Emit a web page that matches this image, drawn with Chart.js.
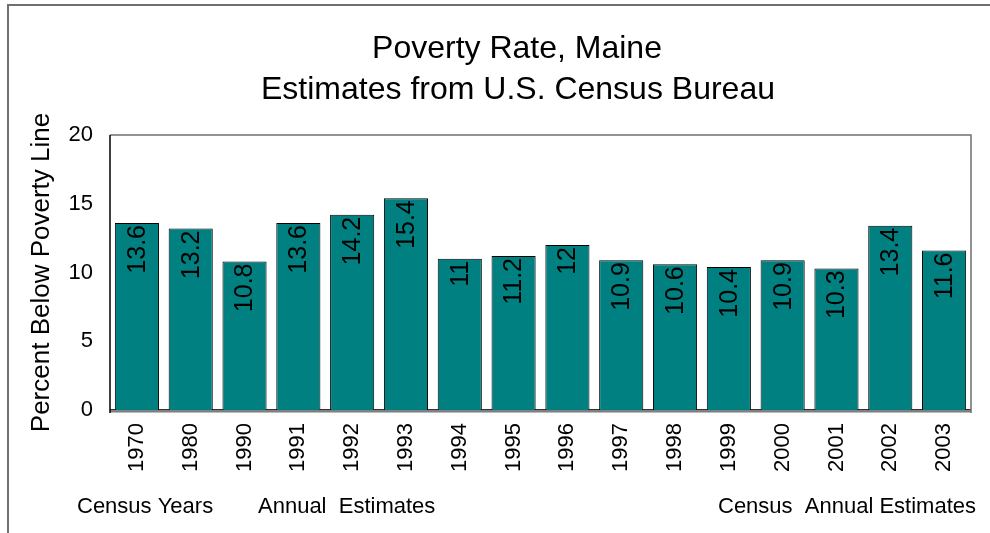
<!DOCTYPE html>
<html>
<head>
<meta charset="utf-8">
<script src="https://cdn.jsdelivr.net/npm/chart.js@4"></script>
<style>
  html, body { margin: 0; padding: 0; background: #fff; }
  #wrap { width: 990px; height: 533px; }
</style>
</head>
<body>
<div id="wrap"><canvas id="povertyChart" width="990" height="533"></canvas></div>
<script>
const years = ['1970', '1980', '1990', '1991', '1992', '1993', '1994', '1995',
  '1996', '1997', '1998', '1999', '2000', '2001', '2002', '2003'];
const povertyRate = [13.6, 13.2, 10.8, 13.6, 14.2, 15.4, 11, 11.2, 12, 10.9, 10.6, 10.4, 10.9, 10.3, 13.4, 11.6];
const yTicks = [0, 5, 10, 15, 20];
const titleLines = ['Poverty Rate, Maine', 'Estimates from U.S. Census Bureau'];
const groupNotes = ['Census Years', 'Annual  Estimates', 'Census  Annual Estimates'];

const FONT = 'Arial, "Liberation Sans", sans-serif';

// frame, floor, value labels, titles and notes under the axis
const decorations = {
  id: 'decorations',
  beforeDatasetsDraw(chart) {
    const { ctx, chartArea: a } = chart;
    ctx.save();
    // grey floor under the bars
    ctx.fillStyle = '#808080';
    ctx.fillRect(a.left, a.bottom - 1, a.right - a.left, 3);
    ctx.strokeStyle = '#333';
    ctx.lineWidth = 1;
    ctx.beginPath();
    ctx.moveTo(a.left, a.bottom - 0.5);
    ctx.lineTo(a.right, a.bottom - 0.5);
    ctx.stroke();
    ctx.strokeStyle = '#bbb';
    ctx.beginPath();
    ctx.moveTo(a.left, a.bottom + 2.5);
    ctx.lineTo(a.right, a.bottom + 2.5);
    ctx.stroke();
    // plot border: grey top and right, black left
    ctx.strokeStyle = '#707070';
    ctx.lineWidth = 1.5;
    ctx.beginPath();
    ctx.moveTo(a.left, a.top);
    ctx.lineTo(a.right, a.top);
    ctx.lineTo(a.right, a.bottom + 3);
    ctx.stroke();
    ctx.strokeStyle = '#000';
    ctx.lineWidth = 1.5;
    ctx.beginPath();
    ctx.moveTo(a.left, a.top);
    ctx.lineTo(a.left, a.bottom + 3);
    ctx.stroke();
    ctx.restore();
  },
  afterDraw(chart) {
    const { ctx } = chart;
    ctx.save();
    // outer frame
    ctx.strokeStyle = '#707070';
    ctx.lineWidth = 2;
    ctx.beginPath();
    ctx.moveTo(8, 533);
    ctx.lineTo(8, 5);
    ctx.lineTo(990, 5);
    ctx.stroke();

    // value labels, rotated, hanging from the top of each bar
    const meta = chart.getDatasetMeta(0);
    ctx.fillStyle = '#000';
    ctx.font = '25px ' + FONT;
    ctx.textAlign = 'right';
    ctx.textBaseline = 'middle';
    meta.data.forEach((bar, i) => {
      ctx.save();
      ctx.translate(bar.x, bar.y + 2);
      ctx.rotate(-Math.PI / 2);
      ctx.fillText(String(povertyRate[i]), 0, 1);
      ctx.restore();
    });

    // titles
    ctx.textAlign = 'center';
    ctx.textBaseline = 'alphabetic';
    ctx.font = '32px ' + FONT;
    ctx.fillText(titleLines[0], 517, 58);
    ctx.fillText(titleLines[1], 518, 99);

    // group notes
    ctx.font = '22px ' + FONT;
    ctx.textAlign = 'left';
    ctx.fillText(groupNotes[0], 77, 513);
    ctx.fillText(groupNotes[1], 258, 513);
    ctx.fillText(groupNotes[2], 718, 513);
    ctx.restore();
  }
};

const ctx = document.getElementById('povertyChart').getContext('2d');
const povertyChart = new Chart(ctx, {
  type: 'bar',
  data: {
    labels: years,
    datasets: [{
      data: povertyRate,
      backgroundColor: '#008080',
      borderColor: '#000',
      borderWidth: 1,
      barPercentage: 0.82,
      categoryPercentage: 1
    }]
  },
  options: {
    responsive: false,
    animation: false,
    layout: {
      padding: { top: 135, left: 0, right: 19, bottom: 0 }
    },
    plugins: {
      legend: { display: false },
      title: { display: false },
      tooltip: { enabled: false }
    },
    scales: {
      x: {
        grid: { display: false, drawTicks: false },
        border: { display: false },
        ticks: {
          color: '#000',
          font: { family: FONT, size: 22 },
          minRotation: 90,
          maxRotation: 90,
          padding: 13,
          autoSkip: false
        },
        afterFit(scale) { scale.height = 123; }
      },
      y: {
        min: 0,
        max: 20,
        grid: { display: false, drawTicks: false },
        border: { display: false },
        afterBuildTicks(scale) { scale.ticks = yTicks.map(v => ({ value: v })); },
        ticks: {
          color: '#000',
          font: { family: FONT, size: 22 },
          padding: 17
        },
        title: {
          display: true,
          text: 'Percent Below Poverty Line',
          color: '#000',
          font: { family: FONT, size: 26 },
          padding: { top: 26, bottom: 0 }
        },
        afterFit(scale) { scale.width = 110; }
      }
    }
  },
  plugins: [decorations]
});
</script>
</body>
</html>
